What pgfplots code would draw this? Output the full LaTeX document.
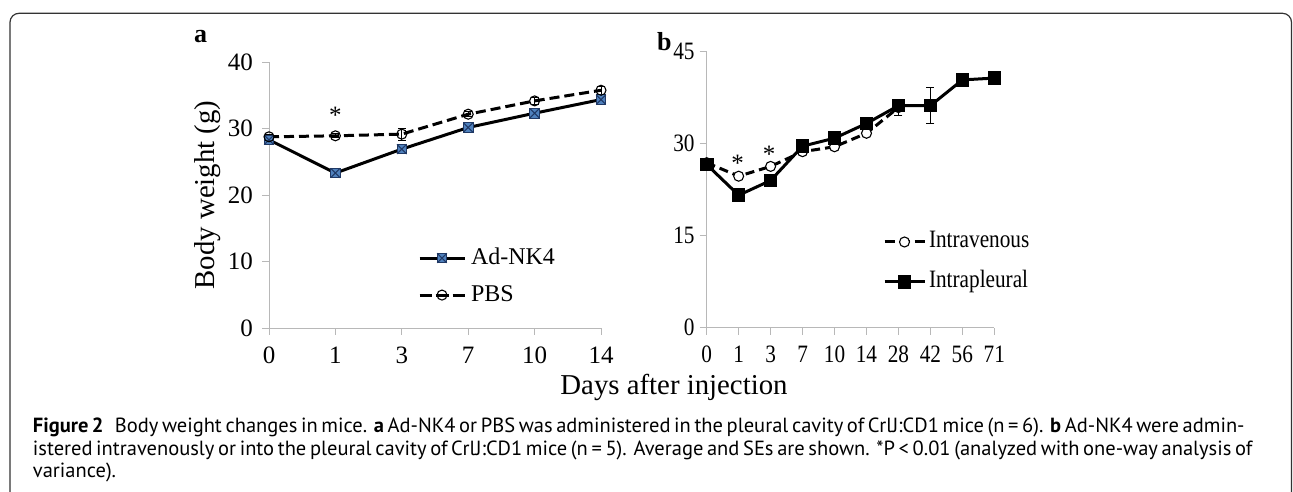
\documentclass[border=0pt]{standalone}
\usepackage{pgfplots}
\pgfplotsset{compat=1.18}
\usepackage{fontspec}
\setmainfont{Liberation Serif}
\newfontfamily\bfont[FakeStretch=0.85]{Liberation Serif}
\newfontfamily\capfont{PT Sans}
\definecolor{axgray}{HTML}{B8B8B8}
\definecolor{mkblue}{HTML}{4F81BD}
\definecolor{mkdark}{HTML}{1F3864}
\pgfdeclareplotmark{sqx}{%
  \pgfpathrectangle{\pgfpoint{-\pgfplotmarksize}{-\pgfplotmarksize}}{\pgfpoint{2\pgfplotmarksize}{2\pgfplotmarksize}}%
  \pgfusepathqfillstroke
  \pgfpathmoveto{\pgfpoint{-\pgfplotmarksize}{-\pgfplotmarksize}}%
  \pgfpathlineto{\pgfpoint{\pgfplotmarksize}{\pgfplotmarksize}}%
  \pgfpathmoveto{\pgfpoint{-\pgfplotmarksize}{\pgfplotmarksize}}%
  \pgfpathlineto{\pgfpoint{\pgfplotmarksize}{-\pgfplotmarksize}}%
  \pgfusepathqstroke}
\pgfplotsset{
  panel/.style={
    scale only axis, clip=false,
    axis x line*=bottom, axis y line*=left,
    axis line style={draw=axgray, line width=0.9pt, -},
    every outer x axis line/.append style={-},
    every outer y axis line/.append style={-},
    tick align=outside, major tick length=7pt,
    tick style={draw=axgray, line width=0.9pt},
    xtick pos=bottom, ytick pos=left,
    /pgf/number format/assume math mode=true,
    xticklabel style={inner sep=0pt, text height=17pt, text depth=0pt, yshift=-11pt},
    legend cell align=left,
    legend style={draw=none, fill=none, inner sep=0pt, outer sep=0pt,
      nodes={inner sep=0pt, text height=18pt, text depth=6pt}},
  },
  ebars/.style={error bars/.cd, y dir=both, y explicit,
    error bar style={line width=0.8pt, solid, black},
    error mark options={rotate=90, mark size=4pt, line width=0.8pt, black}},
}
\begin{document}
\begin{tikzpicture}[x=1pt,y=1pt]
\useasboundingbox (0,0) rectangle (1293,492);
\draw[line width=1.2pt, draw=black!80, rounded corners=9pt] (10,-30) -- (10,478.7) -- (1291.5,478.7) -- (1291.5,-30);

% panel a
\begin{axis}[panel, at={(269pt,164pt)}, anchor=south west,
  width=332pt, height=266pt,
  xmin=0, xmax=5, ymin=0, ymax=40,
  xtick={0,1,2,3,4,5}, xticklabels={0,1,3,7,10,14},
  ytick={0,10,20,30,40},
  tick label style={font=\fontsize{25}{25}\selectfont},
  yticklabel style={inner sep=0pt, xshift=-9pt},
  legend image code/.code={\draw[mark repeat=2,mark phase=2] plot coordinates {(0pt,0pt)(22.5pt,0pt)(45pt,0pt)};},
  legend style={at={(0.4488,0.308)}, anchor=north west,
    font=\fontsize{24}{24}\selectfont, row sep=13pt, column sep=5pt}]
\addplot[black, line width=3pt, mark=sqx, mark size=4.8pt,
  mark options={solid, fill=mkblue, draw=mkdark, line width=1pt}, ebars]
  coordinates {(0,28.3) +- (0,0.3) (1,23.3) +- (0,0.3) (2,26.9) +- (0,0.6)
               (3,30.15) +- (0,0.3) (4,32.3) +- (0,0.3) (5,34.35) +- (0,0.3)};
\addlegendentry{Ad-NK4}
\addplot[black, line width=3pt, dash pattern=on 10pt off 5pt, mark=o, mark size=5pt,
  mark options={solid, draw=black, line width=1.1pt},
  legend image post style={dash pattern=on 12pt off 4pt on 13pt off 4pt on 12pt}, ebars]
  coordinates {(0,28.75) +- (0,0.3) (1,28.9) +- (0,0.3) (2,29.15) +- (0,0.9)
               (3,32.15) +- (0,0.4) (4,34.15) +- (0,0.6) (5,35.75) +- (0,0.6)};
\addlegendentry{PBS}
\node[font=\fontsize{25}{25}\selectfont, anchor=base, inner sep=0pt] at (axis cs:1.0,30.7) {*};
\end{axis}

% panel b
\begin{axis}[panel, at={(706.7pt,164.3pt)}, anchor=south west,
  width=287.6pt, height=276pt,
  xmin=0, xmax=9, ymin=0, ymax=45,
  xtick={0,1,2,3,4,5,6,7,8,9}, xticklabels={0,1,3,7,10,14,28,42,56,71},
  ytick={0,15,30,45},
  tick label style={font=\bfont\fontsize{25}{25}\selectfont},
  yticklabel style={inner sep=0pt, xshift=-5pt},
  legend image code/.code={\draw[mark repeat=2,mark phase=2] plot coordinates {(0pt,0pt)(20pt,0pt)(40pt,0pt)};},
  legend style={at={(0.613,0.354)}, anchor=north west,
    font=\bfont\fontsize{25}{25}\selectfont, row sep=16pt, column sep=3pt}]
\addplot[black, line width=3pt, dash pattern=on 9pt off 5pt, mark=*, mark size=5pt,
  mark options={solid, fill=white, draw=black, line width=1.1pt},
  legend image post style={dash pattern=on 10pt off 5pt on 10pt off 5pt on 10pt}, ebars]
  coordinates {(0,26.9) +- (0,0.3) (1,24.7) +- (0,0.3) (2,26.3) +- (0,0.3)
               (3,28.7) +- (0,0.3) (4,29.5) +- (0,0.3) (5,31.7) +- (0,0.3) (6,35.9) +- (0,1.25)};
\addlegendentry{Intravenous}
\addplot[black, line width=3pt, mark=square*, mark size=5.3pt,
  mark options={solid, fill=black}, ebars]
  coordinates {(0,26.6) +- (0,0.3) (1,21.6) +- (0,0.3) (2,24.0) +- (0,0.3)
               (3,29.6) +- (0,0.3) (4,30.9) +- (0,0.3) (5,33.3) +- (0,0.3)
               (6,36.2) +- (0,0.8) (7,36.2) +- (0,2.9) (8,40.4) +- (0,0.3) (9,40.7) +- (0,0.3)};
\addlegendentry{Intrapleural}
\node[font=\fontsize{25}{25}\selectfont, anchor=base, inner sep=0pt] at (axis cs:0.97,25.4) {*};
\node[font=\fontsize{25}{25}\selectfont, anchor=base, inner sep=0pt] at (axis cs:1.95,27.0) {*};
\end{axis}

% labels
\node[anchor=base west, inner sep=0pt, font=\bfseries\fontsize{26}{26}\selectfont] at (194,449) {a};
\node[anchor=base west, inner sep=0pt, font=\bfseries\fontsize{26}{26}\selectfont] at (657,441) {b};
\node[rotate=90, inner sep=0pt, font=\fontsize{28.8}{28.8}\selectfont] at (207.5,297) {Body weight (g)};
\node[anchor=base, inner sep=0pt, font=\fontsize{28.8}{28.8}\selectfont] at (674,97) {Days after injection};

% caption
\begin{scope}[every node/.style={anchor=base west, inner sep=0pt, font=\capfont\fontsize{20.5}{23}\selectfont}]
\node at (32.7,59) {\makebox[1204pt][s]{\textbf{Figure 2}\hspace{0.55em}Body weight changes in mice. \textbf{a} Ad-NK4 or PBS was administered in the pleural cavity of CrlJ:CD1 mice (n = 6). \textbf{b} Ad-NK4 were admin-}};
\node at (32.7,36.5) {\makebox[1210pt][s]{istered intravenously or into the pleural cavity of CrlJ:CD1 mice (n = 5). Average and SEs are shown. *P < 0.01 (analyzed with one-way analysis of}};
\node at (32.7,14) {variance).};
\end{scope}
\end{tikzpicture}
\end{document}
